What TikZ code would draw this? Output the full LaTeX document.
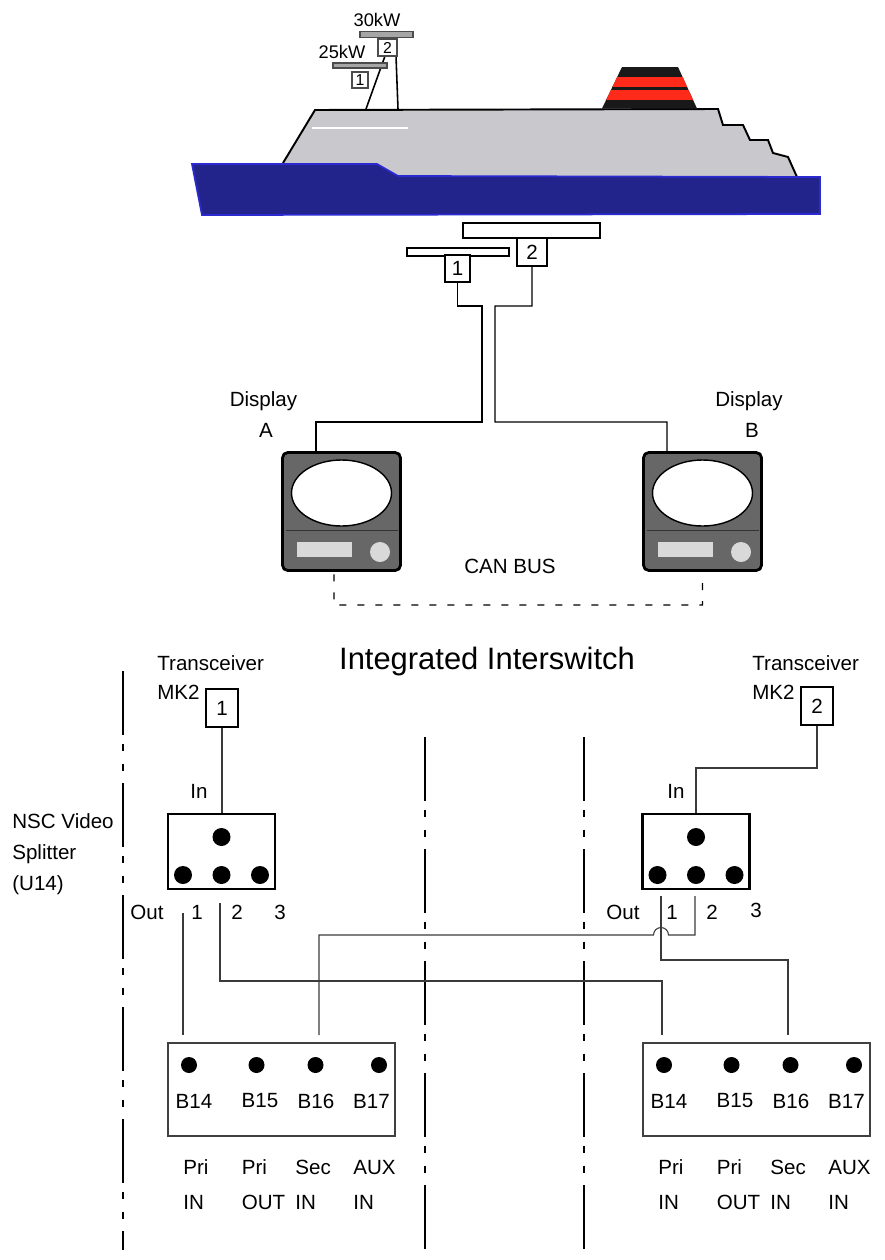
\documentclass[tikz,border=0pt]{standalone}
\usepackage{fontspec}
\setmainfont{Liberation Sans}
\usepackage{tikz}
\usetikzlibrary{positioning}
\definecolor{hullblue}{HTML}{23238C}
\definecolor{hulledge}{HTML}{2A2AD0}
\definecolor{deckgray}{HTML}{C9C9CD}
\definecolor{funnelred}{HTML}{FF2A1A}
\definecolor{unitgray}{HTML}{676767}
\definecolor{panelgray}{HTML}{D9D9D9}
\definecolor{wiregray}{HTML}{3A3A3A}

\begin{document}
\begin{tikzpicture}[
    lbl/.style={font=\fontsize{11.7}{14}\selectfont, inner sep=0pt},
    twoline/.style={font=\fontsize{11.7}{19.9}\selectfont, inner sep=0pt, align=left, anchor=west},
    small/.style={font=\fontsize{10.4}{12}\selectfont, inner sep=0pt},
    mastbar/.style={rectangle, draw=black!70, fill=black!35, line width=0.6pt, inner sep=0pt},
    masttag/.style={rectangle, draw=black!70, fill=white, line width=0.6pt, inner sep=0pt,
      font=\fontsize{9}{10}\selectfont},
    array/.style={rectangle, draw, fill=white, line width=1.1pt, inner sep=0pt},
    arraytag/.style={rectangle, draw, fill=white, line width=1.1pt, inner sep=0pt,
      font=\fontsize{11.7}{14}\selectfont},
    display/.style={rectangle, rounded corners=3pt, draw, line width=1.6pt, fill=unitgray,
      minimum width=2.36cm, minimum height=2.36cm},
    cable/.style={draw=black, line width=0.7pt},
    bus/.style={draw=black, line width=0.6pt, dash pattern=on 0.14cm off 0.22cm},
    divider/.style={draw=black, line width=0.6pt,
      dash pattern=on 1.28cm off 0.18cm on 0.14cm off 0.25cm on 0.14cm off 0.25cm},
    xcvr/.style={rectangle, draw, line width=1pt, minimum width=0.64cm, minimum height=0.76cm,
      font=\fontsize{11.7}{14}\selectfont},
    splitter/.style={rectangle, draw, line width=1.3pt, minimum width=2.14cm, minimum height=1.5cm},
    termblk/.style={rectangle, draw=black!75, line width=0.6pt, minimum width=4.54cm, minimum height=1.86cm},
    pin/.style={circle, fill=black, inner sep=0pt, minimum size=0.36cm},
    wire/.style={draw=wiregray, line width=0.6pt}
  ]
    \useasboundingbox (0,0) rectangle (17.7,-25.2);

    % ── Ship: superstructure ─────────────────────────────────────────────
    \fill[deckgray] (5.66,-3.26) -- (6.30,-2.20) -- (14.36,-2.18) -- (14.46,-2.50)
      -- (14.86,-2.50) -- (15.00,-2.80) -- (15.36,-2.80) -- (15.46,-3.06)
      -- (15.76,-3.14) -- (15.94,-3.54) -- (7.96,-3.52) -- (7.54,-3.28) -- cycle;
    \draw[line width=1.1pt] (5.66,-3.26) -- (6.30,-2.20) -- (14.36,-2.18) -- (14.46,-2.50)
      -- (14.86,-2.50) -- (15.00,-2.80) -- (15.36,-2.80) -- (15.46,-3.06)
      -- (15.76,-3.14) -- (15.94,-3.54);
    \draw[white, line width=1.5pt] (6.24,-2.56) -- (8.16,-2.56);

    % funnel
    \begin{scope}
      \clip (12.04,-2.17) -- (13.94,-2.17) -- (13.56,-1.34) -- (12.44,-1.34) -- cycle;
      \fill[black!90] (12,-2.2) rectangle (14,-1.3);
      \fill[funnelred] (12,-1.54) rectangle (14,-1.74);
      \fill[funnelred] (12,-1.80) rectangle (14,-2.00);
    \end{scope}

    % hull
    \filldraw[fill=hullblue, draw=hulledge, line width=1pt] (3.84,-3.28) -- (7.54,-3.28)
      -- (7.96,-3.52) -- (16.40,-3.54) -- (16.40,-4.28) -- (4.04,-4.30) -- cycle;

    % ── Mast with the two scanners ───────────────────────────────────────
    \draw[line width=0.9pt] (7.32,-2.18) -- (7.70,-1.12);
    \draw[line width=0.9pt] (7.96,-2.18) -- (7.92,-1.12);
    \node[mastbar, minimum width=1.06cm, minimum height=0.11cm] (bar30) at (7.73,-0.69) {};
    \node[masttag, minimum width=0.38cm, minimum height=0.34cm] (tag2) at (7.75,-0.95) {2};
    \node[mastbar, minimum width=1.08cm, minimum height=0.10cm] (bar25) at (7.20,-1.31) {};
    \node[masttag, minimum width=0.32cm, minimum height=0.32cm] (tag1) at (7.20,-1.60) {1};
    \node[small] (kw30) at (7.54,-0.40) {30kW};
    \node[small] (kw25) at (6.84,-1.04) {25kW};

    % ── Antenna arrays below the ship ────────────────────────────────────
    \node[array, minimum width=2.74cm, minimum height=0.30cm] (arr2) at (10.63,-4.61) {};
    \node[array, minimum width=2.04cm, minimum height=0.16cm] (arr1) at (9.16,-5.04) {};
    \node[arraytag, minimum width=0.60cm, minimum height=0.56cm] (ant2) at (10.64,-5.04) {2};
    \node[arraytag, minimum width=0.50cm, minimum height=0.54cm] (ant1) at (9.15,-5.37) {1};

    % ── Displays ─────────────────────────────────────────────────────────
    \node[display] (dispA) at (6.83,-10.23) {};
    \node[display] (dispB) at (14.05,-10.23) {};
    \foreach \d in {dispA, dispB} {
      \filldraw[fill=white, draw=black, line width=0.8pt] ([yshift=0.37cm]\d.center) ellipse (1.0cm and 0.66cm);
      \draw[black!80, line width=0.5pt] ([xshift=-1.12cm, yshift=-0.37cm]\d.center) -- ++(2.24,0);
      \fill[panelgray] ([xshift=-0.89cm, yshift=-0.91cm]\d.center) rectangle ++(1.1,0.3);
      \fill[panelgray] ([xshift=0.77cm, yshift=-0.81cm]\d.center) circle (0.2);
    }

    \node[lbl] (lblA) at (5.27,-8.02) {Display};
    \node[lbl] (lblA2) at (5.32,-8.60) {A};
    \node[lbl] (lblB) at (14.98,-8.02) {Display};
    \node[lbl] (lblB2) at (15.04,-8.60) {B};
    \node[lbl] (canbus) at (10.20,-11.32) {CAN BUS};

    % ── Cables: arrays → displays, display bus ───────────────────────────
    \draw[cable] (ant1.south) |- (9.64,-6.12) |- (6.32,-8.44) -- ([xshift=-0.51cm]dispA.north);
    \draw[cable] (ant2.south) |- (9.90,-6.12) |- (13.34,-8.44) -- ([xshift=-0.71cm]dispB.north);
    \draw[bus] ([xshift=-0.15cm, yshift=-0.05cm]dispA.south) -- (6.68,-12.10) -| ([yshift=-0.05cm]dispB.south);

    % ── Interswitch ──────────────────────────────────────────────────────
    \node[font=\fontsize{17.6}{20}\selectfont, inner sep=0pt] (title) at (9.74,-13.22) {Integrated Interswitch};

    \foreach \x/\ytop in {2.46/-13.42, 8.50/-14.74, 11.68/-14.74}
      \draw[divider] (\x,\ytop) -- (\x,-25.0);

    % transceivers
    \node[xcvr] (xcvr1) at (4.44,-14.16) {1};
    \node[xcvr] (xcvr2) at (16.34,-14.12) {2};
    \node[twoline, font=\fontsize{11.7}{16.5}\selectfont] (xcvr1lbl) at (3.14,-13.55) {Transceiver\\MK2};
    \node[twoline, font=\fontsize{11.7}{16.5}\selectfont] (xcvr2lbl) at (15.04,-13.55) {Transceiver\\MK2};

    % video splitters
    \node[splitter] (split1) at (4.43,-17.03) {};
    \node[splitter] (split2) at (13.92,-17.03) {};
    \foreach \s in {split1, split2} {
      \node[pin] (\s-in) at ([yshift=0.29cm]\s.center) {};
      \foreach \i/\dx in {1/-0.77, 2/0, 3/0.77}
        \node[pin] (\s-o\i) at ([xshift=\dx cm, yshift=-0.47cm]\s.center) {};
    }
    \node[twoline, font=\fontsize{11.7}{17.8}\selectfont] (nsc) at (0.24,-17.08) {NSC Video\\Splitter\\(U14)};
    \node[lbl] (in1) at (3.98,-15.82) {In};
    \node[lbl] (in2) at (13.52,-15.82) {In};

    \node[lbl] (out1) at (2.94,-18.24) {Out};
    \node[lbl] (n11) at (3.94,-18.24) {1};
    \node[lbl] (n12) at (4.74,-18.24) {2};
    \node[lbl] (n13) at (5.60,-18.24) {3};
    \node[lbl] (out2) at (12.46,-18.24) {Out};
    \node[lbl] (n21) at (13.44,-18.24) {1};
    \node[lbl] (n22) at (14.24,-18.24) {2};
    \node[lbl] (n23) at (15.12,-18.20) {3};

    % terminal blocks
    \node[termblk] (term1) at (5.63,-21.79) {};
    \node[termblk] (term2) at (15.13,-21.79) {};
    \foreach \t in {term1, term2} {
      \foreach \i/\dx/\lx in {14/-1.85/-1.75, 15/-0.50/-0.43, 16/0.68/0.69, 17/1.95/1.80} {
        \node[pin, minimum size=0.32cm] (\t-b\i) at ([xshift=\dx cm, yshift=0.49cm]\t.center) {};
        \node[lbl] (\t-l\i) at ([xshift=\lx cm, yshift=-0.23cm]\t.center) {B\i};
      }
      \node[twoline] (\t-pri) at ([xshift=-1.97cm, yshift=-1.90cm]\t.center) {Pri\\IN};
      \node[twoline] (\t-pro) at ([xshift=-0.80cm, yshift=-1.90cm]\t.center) {Pri\\OUT};
      \node[twoline] (\t-sec) at ([xshift=0.27cm, yshift=-1.90cm]\t.center) {Sec\\IN};
      \node[twoline] (\t-aux) at ([xshift=1.43cm, yshift=-1.90cm]\t.center) {AUX\\IN};
    }

    % ── Wiring ───────────────────────────────────────────────────────────
    \coordinate (s1o1) at (3.66,-18.26);
    \coordinate (s1o2) at (4.40,-18.06);
    \coordinate (s2o1) at (13.22,-17.92);
    \coordinate (s2o2) at (13.90,-17.92);
    \coordinate (t1b14) at (3.66,-20.70);
    \coordinate (t1b16) at (6.38,-20.70);
    \coordinate (t2b14) at (13.24,-20.70);
    \coordinate (t2b16) at (15.76,-20.70);

    \draw[wire] (xcvr1.south) -- (xcvr1.south |- split1.north);
    \draw[wire] (xcvr2.south) |- (13.92,-15.36) -- (split2.north);

    \draw[wire] (s1o1) -- (t1b14);
    \draw[wire] (s1o2) |- (13.24,-19.62) -- (t2b14);
    \draw[wire] (s2o1) |- (15.76,-19.20) -- (t2b16);
    \draw[wire] (s2o2) -- (13.90,-18.70) -- (13.37,-18.70) arc (0:180:0.15)
      -- (6.38,-18.70) -- (t1b16);

\end{tikzpicture}
\end{document}
